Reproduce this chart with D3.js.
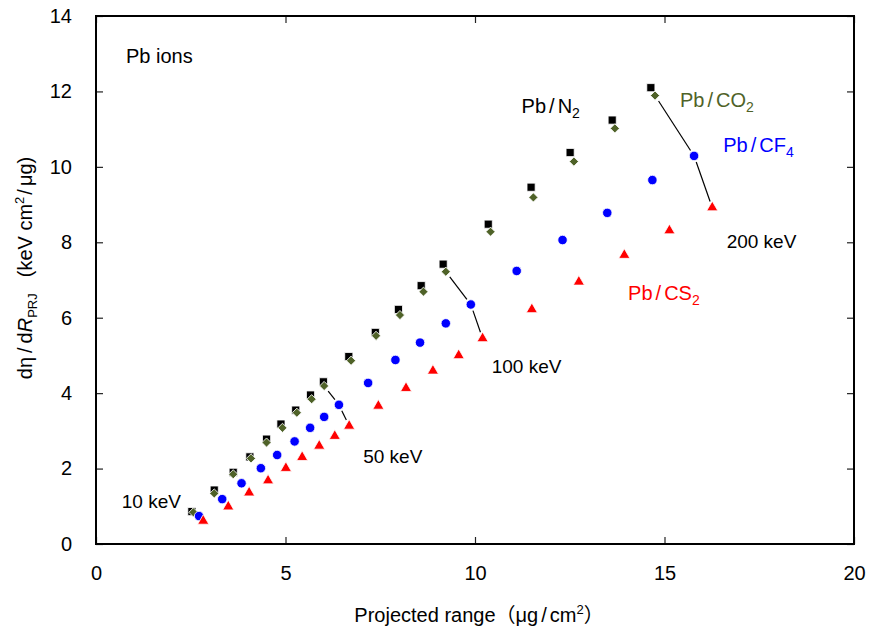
<!DOCTYPE html>
<html>
<head>
<meta charset="utf-8">
<script src="https://cdn.jsdelivr.net/npm/d3@7"></script>
<style>
  body { margin: 0; background: #fff; }
  text { font-family: "Liberation Sans", Arial, "Noto Sans CJK JP", sans-serif; }
</style>
</head>
<body>
<figure id="chart" style="margin:0"></figure>
<script>
// energies (keV) for each point, same for every gas
var energies = [10, 15, 20, 25, 30, 35, 40, 45, 50, 60, 70, 80, 90, 100, 120, 140, 160, 180, 200];

// projected range (ug/cm2) and dEta/dR (keV cm2/ug)
var n2X  = [2.53, 3.12, 3.62, 4.06, 4.50, 4.88, 5.27, 5.66, 6.00, 6.67, 7.37, 7.98, 8.58, 9.16, 10.35, 11.48, 12.51, 13.62, 14.64];
var n2Y  = [0.86, 1.43, 1.90, 2.31, 2.78, 3.18, 3.55, 3.95, 4.30, 4.97, 5.61, 6.22, 6.85, 7.42, 8.48, 9.46, 10.38, 11.24, 12.10];
var co2X = [2.57, 3.12, 3.62, 4.09, 4.50, 4.92, 5.30, 5.69, 6.02, 6.73, 7.39, 8.02, 8.64, 9.23, 10.41, 11.54, 12.61, 13.69, 14.75];
var co2Y = [0.84, 1.34, 1.85, 2.27, 2.69, 3.08, 3.48, 3.84, 4.19, 4.86, 5.52, 6.07, 6.69, 7.22, 8.28, 9.19, 10.14, 11.02, 11.89];
var cf4X = [2.72, 3.33, 3.84, 4.35, 4.78, 5.24, 5.65, 6.02, 6.41, 7.18, 7.90, 8.55, 9.23, 9.89, 11.10, 12.31, 13.49, 14.68, 15.78];
var cf4Y = [0.74, 1.19, 1.61, 2.01, 2.36, 2.72, 3.08, 3.37, 3.69, 4.27, 4.88, 5.34, 5.85, 6.35, 7.24, 8.06, 8.78, 9.65, 10.29];
var cs2X = [2.83, 3.49, 4.04, 4.54, 5.01, 5.44, 5.89, 6.30, 6.68, 7.45, 8.18, 8.89, 9.57, 10.20, 11.50, 12.74, 13.94, 15.13, 16.26];
var cs2Y = [0.61, 0.99, 1.36, 1.68, 2.01, 2.30, 2.60, 2.86, 3.13, 3.66, 4.13, 4.59, 5.00, 5.45, 6.22, 6.95, 7.66, 8.31, 8.92];

// energies joined by a thin line across CO2 -> CF4 -> CS2
var markedEnergies = [50, 100, 200];

var xTicks = [0, 5, 10, 15, 20];
var yTicks = [0, 2, 4, 6, 8, 10, 12, 14];

// set the dimensions and margins of the graph
var margin = {top: 16, right: 18, bottom: 91, left: 96},
  width = 872 - margin.left - margin.right,
  height = 635 - margin.top - margin.bottom;

var svg = d3.select("figure#chart")
.append("svg")
  .attr("width", 872)
  .attr("height", 635)
.append("g")
  .attr("transform", "translate(" + margin.left + "," + margin.top + ")");

var x = d3.scaleLinear().domain([0, 20]).range([0, width]);
var y = d3.scaleLinear().domain([0, 14]).range([height, 0]);

// axes, ticks pointing inward on all four sides
function styleAxis(g) {
  g.select(".domain").remove();
  g.selectAll(".tick line").attr("stroke", "#222").attr("stroke-width", 1.2);
  g.selectAll(".tick text").attr("font-size", 20).attr("fill", "#000");
}
svg.append("g")
  .attr("transform", "translate(0," + height + ")")
  .call(d3.axisBottom(x).tickValues(xTicks).tickSizeInner(-7).tickSizeOuter(0).tickPadding(22))
  .call(styleAxis);
svg.append("g")
  .call(d3.axisLeft(y).tickValues(yTicks).tickSizeInner(-7).tickSizeOuter(0).tickPadding(24))
  .call(styleAxis);
svg.append("g")
  .call(d3.axisTop(x).tickValues(xTicks).tickSizeInner(-7).tickSizeOuter(0).tickFormat(""))
  .call(styleAxis);
svg.append("g")
  .attr("transform", "translate(" + width + ",0)")
  .call(d3.axisRight(y).tickValues(yTicks).tickSizeInner(-7).tickSizeOuter(0).tickFormat(""))
  .call(styleAxis);

svg.append("rect")
  .attr("width", width).attr("height", height)
  .attr("fill", "none").attr("stroke", "#000").attr("stroke-width", 2);

// build rows for each gas
function rows(xs, ys) {
  return energies.map(function(e, i) { return {e: e, x: xs[i], y: ys[i]}; });
}
var series = [
  {name: "N2",  rows: rows(n2X, n2Y),   shape: d3.symbolSquare,   size: 66, rot: 0,  color: "#000000"},
  {name: "CO2", rows: rows(co2X, co2Y), shape: d3.symbolSquare,   size: 42, rot: 45, color: "#4f6228"},
  {name: "CF4", rows: rows(cf4X, cf4Y), shape: d3.symbolCircle,   size: 70, rot: 0,  color: "#0000ff"},
  {name: "CS2", rows: rows(cs2X, cs2Y), shape: d3.symbolTriangle, size: 54, rot: 0,  color: "#ff0000"}
];

// connecting lines for 50, 100 and 200 keV, stopping short of the markers
markedEnergies.forEach(function(e) {
  var pts = series.slice(1).map(function(s) {
    var r = s.rows.find(function(d) { return d.e === e; });
    return [x(r.x), y(r.y)];
  });
  for (var i = 0; i < pts.length - 1; i++) {
    var a = pts[i], b = pts[i + 1];
    var dx = b[0] - a[0], dy = b[1] - a[1], len = Math.sqrt(dx * dx + dy * dy);
    var gap = 6.5 / len;
    svg.append("line")
      .attr("x1", a[0] + dx * gap).attr("y1", a[1] + dy * gap)
      .attr("x2", b[0] - dx * gap).attr("y2", b[1] - dy * gap)
      .attr("stroke", "#000").attr("stroke-width", 1.2);
  }
});

series.forEach(function(s) {
  svg.selectAll(null)
    .data(s.rows)
    .enter()
    .append("path")
    .attr("d", d3.symbol().type(s.shape).size(s.size))
    .attr("transform", function(d) {
      return "translate(" + x(d.x) + "," + y(d.y) + ") rotate(" + s.rot + ")";
    })
    .attr("fill", s.color)
    .attr("stroke", "#fff")
    .attr("stroke-width", 0.8);
});

// text labels (placed in data units); the slash gets a little room like the original
function label(text, sub, px, py, color, size) {
  var t = svg.append("text")
    .attr("x", x(px)).attr("y", y(py))
    .attr("font-size", size || 20)
    .attr("fill", color || "#000");
  var parts = text.split("/");
  t.append("tspan").text(parts[0]);
  if (parts.length > 1) {
    t.append("tspan").attr("dx", 3).text("/");
    t.append("tspan").attr("dx", 3).text(parts[1]);
  }
  if (sub) {
    t.append("tspan").attr("font-size", 14).attr("dy", 5).text(sub);
  }
}
label("Pb ions", null, 0.79, 12.75);
label("Pb/N", "2", 11.23, 11.43);
label("Pb/CO", "2", 15.41, 11.59, "#4f6228");
label("Pb/CF", "4", 16.55, 10.39, "#0000ff");
label("Pb/CS", "2", 14.04, 6.47, "#ff0000");
label("200 keV", null, 16.64, 7.84, "#000", 19);
label("100 keV", null, 10.44, 4.53, "#000", 19);
label("50 keV", null, 7.05, 2.14, "#000", 19);
label("10 keV", null, 0.68, 0.95, "#000", 19);

// axis titles
var xt = svg.append("text")
  .attr("x", width / 2 + 4)
  .attr("y", height + 78)
  .attr("text-anchor", "middle")
  .attr("font-size", 20);
xt.append("tspan").text("Projected range（μg");
xt.append("tspan").attr("dx", 3).text("/");
xt.append("tspan").attr("dx", 3).text("cm");
xt.append("tspan").attr("font-size", 13).attr("dy", -8).text("2");
xt.append("tspan").attr("dy", 8).text("）");

var yt = svg.append("text")
  .attr("transform", "translate(" + (32 - margin.left) + "," + (268 - margin.top) + ") rotate(-90)")
  .attr("text-anchor", "middle")
  .attr("font-size", 20);
yt.append("tspan").text("dη");
yt.append("tspan").attr("dx", 4).text("/");
yt.append("tspan").attr("dx", 4).text("d");
yt.append("tspan").attr("font-style", "italic").text("R");
yt.append("tspan").attr("font-size", 13).attr("dy", 5).text("PRJ");
yt.append("tspan").attr("dy", -5).attr("dx", 16).text("(keV cm");
yt.append("tspan").attr("font-size", 13).attr("dy", -8).text("2");
yt.append("tspan").attr("dy", 8).attr("dx", 2).text("/");
yt.append("tspan").attr("dx", 3).text("μg)");
</script>
</body>
</html>
